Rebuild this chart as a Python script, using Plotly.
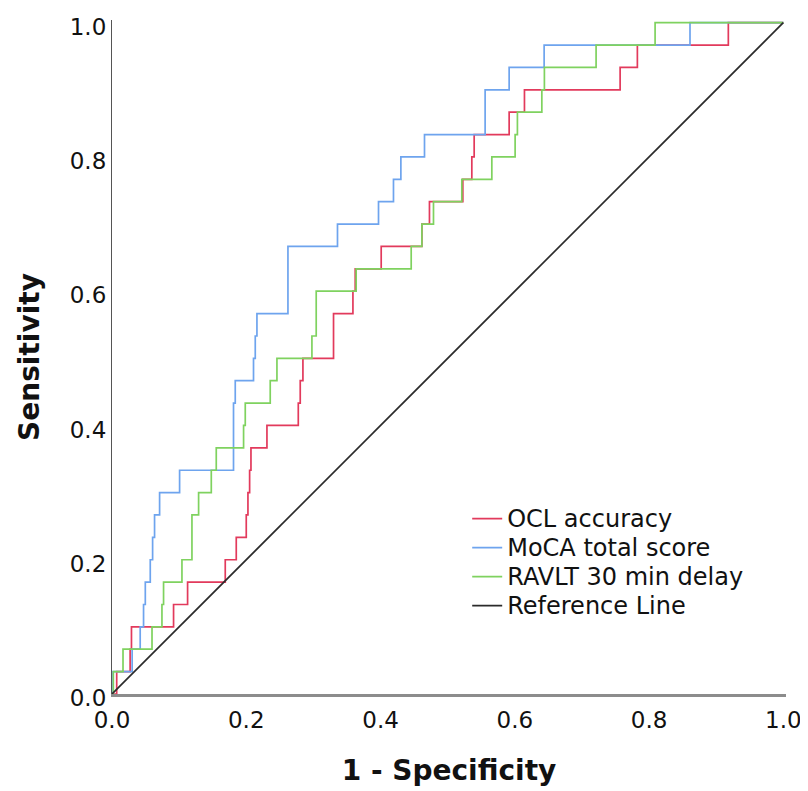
import plotly.graph_objects as go

# ROC step points (end of each vertical rise), drawn with line_shape='hv'
ocl_fpr = [0, 0.007, 0.027, 0.029, 0.0917, 0.1126, 0.1687, 0.1851, 0.2, 0.2025, 0.205, 0.207,
           0.2308, 0.2775, 0.2804, 0.2844, 0.33, 0.3589, 0.3623, 0.401, 0.4616, 0.4729, 0.5226,
           0.536, 0.5395, 0.5916, 0.6144, 0.7569, 0.7826, 0.9181, 1.0]
ocl_tpr = [0, 0.0333, 0.0667, 0.1, 0.1333, 0.1667, 0.2, 0.2333, 0.2667, 0.3, 0.3333, 0.3667,
           0.4, 0.4333, 0.4667, 0.5, 0.5667, 0.6, 0.6333, 0.6667, 0.7, 0.7333, 0.7667,
           0.8, 0.8333, 0.8667, 0.9, 0.9333, 0.9667, 1.0, 1.0]

moca_fpr = [0, 0.0015, 0.03, 0.042, 0.047, 0.0496, 0.057, 0.0605, 0.0634, 0.0709, 0.1007, 0.181,
            0.1836, 0.2108, 0.2134, 0.2159, 0.2621, 0.3359, 0.397, 0.4193, 0.4303, 0.4655,
            0.5558, 0.5916, 0.6437, 0.861, 1.0]
moca_tpr = [0, 0.0333, 0.0667, 0.1, 0.1333, 0.1667, 0.2, 0.2333, 0.2667, 0.3, 0.3333, 0.4333,
            0.4667, 0.5, 0.5333, 0.5667, 0.6667, 0.7, 0.7333, 0.7667, 0.8, 0.8333,
            0.9, 0.9333, 0.9667, 1.0, 1.0]

ravlt_fpr = [0, 0.002, 0.0164, 0.0596, 0.0744, 0.0768, 0.1042, 0.1191, 0.129, 0.1479, 0.1553,
             0.196, 0.1985, 0.2357, 0.2457, 0.2978, 0.3042, 0.3637, 0.4457, 0.4616, 0.4789,
             0.5211, 0.5658, 0.6005, 0.6039, 0.6403, 0.6441, 0.7211, 0.809, 1.0]
ravlt_tpr = [0, 0.0333, 0.0667, 0.1, 0.1333, 0.1667, 0.2, 0.2667, 0.3, 0.3333, 0.3667,
             0.4, 0.4333, 0.4667, 0.5, 0.5333, 0.6, 0.6333, 0.6667, 0.7, 0.7333,
             0.7667, 0.8, 0.8333, 0.8667, 0.9, 0.9333, 0.9667, 1.0, 1.0]

ref_x = [0, 1]
ref_y = [0, 1]

series_names = ["OCL accuracy", "MoCA total score", "RAVLT 30 min delay", "Reference Line"]
tick_vals = [0.0, 0.2, 0.4, 0.6, 0.8, 1.0]
tick_text = ["0.0", "0.2", "0.4", "0.6", "0.8", "1.0"]

colors = ["#e23a5c", "#6ea4ee", "#7fd25f", "#2b2b2b"]


def legend_label(name):
    # larger glyphs than the legend's nominal size keep the tighter row spacing
    return f"<span style='font-size:24px'>{name}</span>"


fig = go.Figure()
for (xs, ys), name, col in zip([(ocl_fpr, ocl_tpr), (moca_fpr, moca_tpr), (ravlt_fpr, ravlt_tpr)],
                               series_names[:3], colors[:3]):
    fig.add_trace(go.Scatter(x=xs, y=ys, mode="lines", name=legend_label(name), line_shape="hv",
                             line=dict(color=col, width=1.7)))
fig.add_trace(go.Scatter(x=ref_x, y=ref_y, mode="lines", name=legend_label(series_names[3]),
                         line=dict(color=colors[3], width=1.7)))

font_family = "DejaVu Sans"
# the page body adds an 8px margin, so the figure is sized to fit the window
fig.update_layout(
    width=800, height=783,
    margin=dict(l=104, r=22, t=12, b=97, autoexpand=False),
    paper_bgcolor="white", plot_bgcolor="white",
    font=dict(family=font_family, size=23, color="#111111"),
    showlegend=True,
    legend=dict(x=0.527, y=0.289, xanchor="left", yanchor="top",
                bgcolor="rgba(0,0,0,0)", font=dict(size=20, color="#111111"),
                tracegroupgap=0),
    xaxis=dict(range=[0, 1.004], tickvals=tick_vals, ticktext=tick_text, ticks="",
               automargin=False, ticklabelstandoff=4,
               showgrid=False, zeroline=False, showline=True, linecolor="#8c8c8c", linewidth=2.5,
               title=dict(text="<b>1 - Specificity</b>", font=dict(size=28, family=font_family),
                          standoff=29)),
    yaxis=dict(range=[0, 1.004], tickvals=tick_vals, ticktext=tick_text, ticks="",
               automargin=False, ticklabelshift=4,
               showgrid=False, zeroline=False, showline=True, linecolor="#555555", linewidth=1.2,
               title=dict(text="<b>Sensitivity</b>", font=dict(size=28, family=font_family),
                          standoff=21)),
)
fig.write_html("out.html")
